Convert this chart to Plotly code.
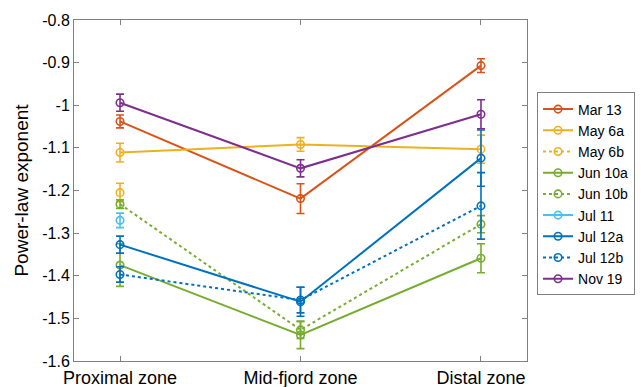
import plotly.graph_objects as go

zones = ["Proximal zone", "Mid-fjord zone", "Distal zone"]
zone_pos = [1, 2, 3]

names = ["Mar 13", "May 6a", "May 6b", "Jun 10a", "Jun 10b", "Jul 11", "Jul 12a", "Jul 12b", "Nov 19"]

mar13 = [-1.038, -1.219, -0.907]
mar13_err = [0.015, 0.035, 0.016]
may6a = [-1.111, -1.092, -1.103]
may6a_err = [0.022, 0.016, 0.033]
may6b = [-1.205, None, None]
may6b_err = [0.022, 0, 0]
jun10a = [-1.375, -1.539, -1.359]
jun10a_err = [0.05, 0.032, 0.034]
jun10b = [-1.232, -1.527, -1.279]
jun10b_err = [0.01, 0.02, 0.02]
jul11 = [-1.270, None, None]
jul11_err = [0.017, 0, 0]
jul12a = [-1.327, -1.461, -1.124]
jul12a_err = [0.02, 0.034, 0.066]
jul12b = [-1.397, -1.457, -1.236]
jul12b_err = [0.018, 0.03, 0.078]
nov19 = [-0.994, -1.148, -1.021]
nov19_err = [0.02, 0.02, 0.034]

yticks = [-0.8, -0.9, -1.0, -1.1, -1.2, -1.3, -1.4, -1.5, -1.6]
yticklabels = ["-0.8", "-0.9", "-1", "-1.1", "-1.2", "-1.3", "-1.4", "-1.5", "-1.6"]

series = [
    (names[0], mar13, mar13_err, "#D95319", "solid"),
    (names[1], may6a, may6a_err, "#EDB120", "solid"),
    (names[2], may6b, may6b_err, "#EDB120", "dot"),
    (names[3], jun10a, jun10a_err, "#77AC30", "solid"),
    (names[4], jun10b, jun10b_err, "#77AC30", "dot"),
    (names[5], jul11, jul11_err, "#4DBEEE", "solid"),
    (names[6], jul12a, jul12a_err, "#0072BD", "solid"),
    (names[7], jul12b, jul12b_err, "#0072BD", "dot"),
    (names[8], nov19, nov19_err, "#7E2F8E", "solid"),
]

fig = go.Figure()
for name, vals, errs, color, dash in series:
    fig.add_trace(go.Scatter(
        x=zone_pos, y=vals, name=name, mode="lines+markers",
        line=dict(color=color, width=2, dash=dash),
        marker=dict(symbol="circle-open", size=7.5, color=color, line=dict(width=1.6, color=color)),
        error_y=dict(type="data", array=errs, visible=True, color=color, thickness=1.6, width=4),
        connectgaps=False,
    ))

axis_color = "#808080"
fig.update_layout(
    width=641, height=387,
    margin=dict(l=74, r=114, t=20, b=26),
    paper_bgcolor="white", plot_bgcolor="white",
    font=dict(family="Liberation Sans, Arial, Helvetica, sans-serif", color="#000000", size=15),
    showlegend=True,
    legend=dict(
        xref="container", yref="container",
        x=0.8378, y=0.761, xanchor="left", yanchor="top",
        bordercolor=axis_color, borderwidth=1, bgcolor="white",
        font=dict(size=14, color="#000000"),
        tracegroupgap=0, itemwidth=30, maxheight=320,
    ),
    xaxis=dict(
        range=[0.745, 3.255], tickvals=zone_pos, ticktext=zones,
        showline=True, linecolor=axis_color, linewidth=1, mirror="ticks",
        ticks="inside", ticklen=5, tickcolor=axis_color,
        showgrid=False, zeroline=False, automargin=False,
        tickfont=dict(size=18, color="#000000"),
    ),
    yaxis=dict(
        range=[-1.6, -0.8], tickvals=yticks, ticktext=yticklabels,
        showline=True, linecolor=axis_color, linewidth=1, mirror="ticks",
        ticks="inside", ticklen=5, tickcolor=axis_color,
        showgrid=False, zeroline=False, automargin=False,
        tickfont=dict(size=16, color="#000000"),
        title=dict(text="Power-law exponent", font=dict(size=19, color="#000000"), standoff=8),
    ),
)

fig.write_html("out.html")
